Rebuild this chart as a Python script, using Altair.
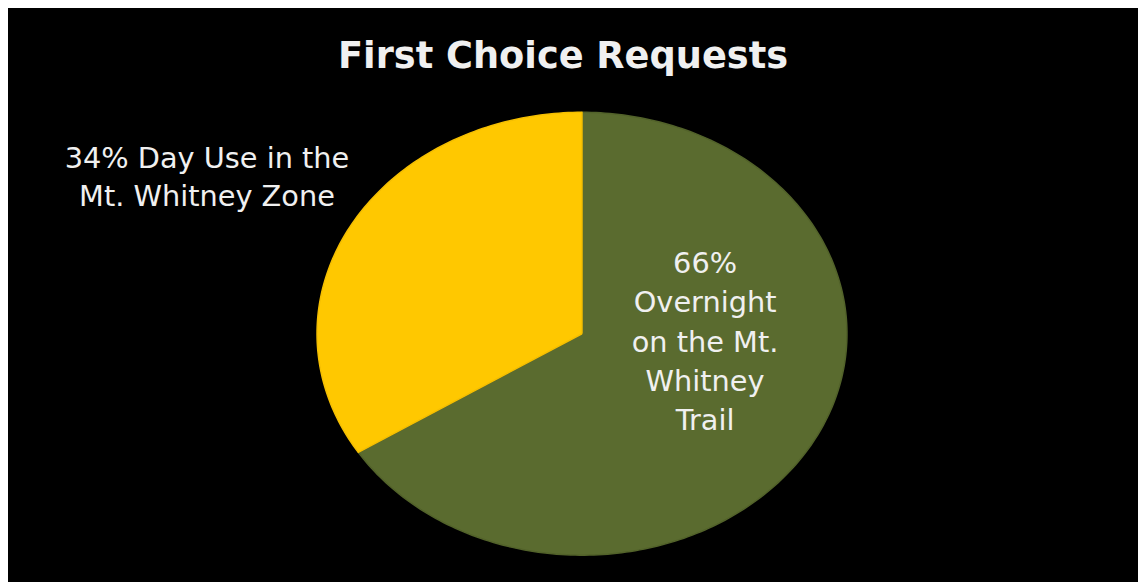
import altair as alt
import pandas as pd
import numpy as np

title_text = "First Choice Requests"
categories = ["Overnight on the Mt. Whitney Trail", "Day Use in the Mt. Whitney Zone"]
shares = [66, 34]
fill_colors = ["#5a6b2f", "#ffc800"]
edge_colors = ["#52622a", "#f5bf00"]
label_overnight = ["66%", "Overnight", "on the Mt.", "Whitney", "Trail"]
label_dayuse = ["34% Day Use in the", "Mt. Whitney Zone"]

# Pie slice outlines derived from the shares (clockwise from 12 o'clock)
rows = []
total = float(sum(shares))
start = 0.0
for cat, v in zip(categories, shares):
    a0 = start / total * 2 * np.pi
    a1 = (start + v) / total * 2 * np.pi
    n = max(int(np.degrees(a1 - a0)), 2)
    rows.append(dict(cat=cat, i=0, x=0.0, y=0.0))
    for k, a in enumerate(np.linspace(a0, a1, n + 1)):
        rows.append(dict(cat=cat, i=k + 1, x=float(np.sin(a)), y=float(np.cos(a))))
    rows.append(dict(cat=cat, i=n + 2, x=0.0, y=0.0))
    start += v
df = pd.DataFrame(rows)

xs = alt.Scale(domain=[-2.1662, 2.0983], nice=False, zero=False)
ys = alt.Scale(domain=[-1.1300, 1.4619], nice=False, zero=False)

pie = alt.Chart(df).mark_line(strokeWidth=1.5, strokeJoin="round").encode(
    x=alt.X("x:Q", scale=xs, axis=None),
    y=alt.Y("y:Q", scale=ys, axis=None),
    fill=alt.Fill("cat:N", scale=alt.Scale(domain=categories, range=fill_colors), legend=None),
    stroke=alt.Stroke("cat:N", scale=alt.Scale(domain=categories, range=edge_colors), legend=None),
    order=alt.Order("i:Q"),
)

title = alt.Chart(pd.DataFrame({"t": [title_text]})).mark_text(
    font="DejaVu Sans", fontSize=37, fontWeight="bold", color="#f0f0f0",
    align="center", baseline="alphabetic",
).encode(text="t:N", x=alt.value(559), y=alt.value(58))

left = alt.Chart(pd.DataFrame({"t": ["\n".join(label_dayuse)]})).mark_text(
    font="DejaVu Sans", fontSize=29, color="#f0f0f0", align="center",
    baseline="alphabetic", lineBreak="\n", lineHeight=38,
).encode(text="t:N", x=alt.value(200.4), y=alt.value(159))

right = alt.Chart(pd.DataFrame({"t": ["\n".join(label_overnight)]})).mark_text(
    font="DejaVu Sans", fontSize=29, color="#f0f0f0", align="center",
    baseline="alphabetic", lineBreak="\n", lineHeight=39.5,
).encode(text="t:N", x=alt.value(702), y=alt.value(265))

chart = alt.layer(pie, title, left, right).properties(
    width=1138, height=578, background="black", padding=0
).configure_view(stroke=None)

chart.save("out.html", embed_options={"renderer": "svg", "actions": False})
